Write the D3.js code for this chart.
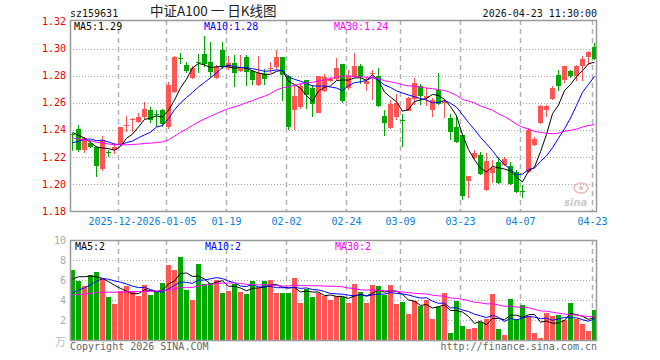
<!DOCTYPE html>
<html><head><meta charset="utf-8">
<script src="https://cdn.jsdelivr.net/npm/d3@7"></script>
<style>
body{margin:0;background:#fff}
svg{display:block}
text{font-family:"DejaVu Sans Mono","Liberation Mono",monospace;font-size:10px}
</style>
</head><body>
<svg id="c" width="660" height="360"></svg>
<script>
// ---------- data ----------
const dates = [
 "2025-12-10","2025-12-11","2025-12-12","2025-12-15","2025-12-16","2025-12-17","2025-12-18","2025-12-19",
 "2025-12-22","2025-12-23","2025-12-24","2025-12-25","2025-12-26","2025-12-29","2025-12-30","2025-12-31",
 "2026-01-05","2026-01-06","2026-01-07","2026-01-08","2026-01-09","2026-01-12","2026-01-13","2026-01-14",
 "2026-01-15","2026-01-16","2026-01-19","2026-01-20","2026-01-21","2026-01-22","2026-01-23","2026-01-26",
 "2026-01-27","2026-01-28","2026-01-29","2026-01-30","2026-02-02","2026-02-03","2026-02-04","2026-02-05",
 "2026-02-06","2026-02-09","2026-02-10","2026-02-11","2026-02-12","2026-02-13","2026-02-24","2026-02-25",
 "2026-02-26","2026-02-27","2026-03-02","2026-03-03","2026-03-04","2026-03-05","2026-03-06","2026-03-09",
 "2026-03-10","2026-03-11","2026-03-12","2026-03-13","2026-03-16","2026-03-17","2026-03-18","2026-03-19",
 "2026-03-20","2026-03-23","2026-03-24","2026-03-25","2026-03-26","2026-03-27","2026-03-30","2026-03-31",
 "2026-04-01","2026-04-02","2026-04-03","2026-04-07","2026-04-08","2026-04-09","2026-04-10","2026-04-13",
 "2026-04-14","2026-04-15","2026-04-16","2026-04-17","2026-04-20","2026-04-21","2026-04-22","2026-04-23"];

const open = [
 1.2368,1.2407,1.2252,1.2304,1.2274,1.2111,1.2233,1.2252,1.2289,1.2430,
 1.2475,1.2459,1.2494,1.2548,1.2515,1.2543,1.2419,1.2681,1.2930,1.2881,
 1.2783,1.2902,1.2959,1.2899,1.2783,1.2993,1.2857,1.2896,1.2832,1.2936,
 1.2832,1.2733,1.2813,1.2850,1.2865,1.2936,1.2800,1.2548,1.2570,1.2770,
 1.2709,1.2526,1.2684,1.2763,1.2778,1.2883,1.2709,1.2787,1.2870,1.2739,
 1.2817,1.2800,1.2499,1.2411,1.2496,1.2474,1.2541,1.2630,1.2724,1.2637,
 1.2543,1.2693,1.2595,1.2487,1.2420,1.2363,1.2022,1.2189,1.2215,1.1956,
 1.2081,1.2165,1.2137,1.2133,1.2091,1.1946,1.2091,1.2289,1.2452,1.2543,
 1.2630,1.2807,1.2770,1.2832,1.2795,1.2869,1.2936,1.3013];
const high = [
 1.2378,1.2437,1.2348,1.2319,1.2281,1.2356,1.2252,1.2304,1.2424,1.2499,
 1.2487,1.2526,1.2602,1.2570,1.2544,1.2553,1.2750,1.2943,1.2965,1.2899,
 1.2874,1.2963,1.3091,1.3047,1.2878,1.3052,1.2948,1.2956,1.2951,1.2956,
 1.2844,1.2943,1.2850,1.2899,1.2987,1.2941,1.2807,1.2721,1.2746,1.2770,
 1.2733,1.2800,1.2815,1.2793,1.2933,1.2883,1.2844,1.2968,1.2884,1.2788,
 1.2844,1.2857,1.2543,1.2622,1.2667,1.2519,1.2640,1.2783,1.2739,1.2709,
 1.2635,1.2820,1.2622,1.2519,1.2499,1.2363,1.2059,1.2252,1.2237,1.2227,
 1.2178,1.2198,1.2198,1.2163,1.2104,1.1993,1.2411,1.2344,1.2585,1.2585,
 1.2721,1.2844,1.2874,1.2844,1.2881,1.2943,1.2980,1.3042];
const low = [
 1.2244,1.2239,1.2230,1.2267,1.2054,1.2096,1.2200,1.2222,1.2281,1.2387,
 1.2387,1.2452,1.2481,1.2452,1.2422,1.2422,1.2405,1.2672,1.2885,1.2820,
 1.2776,1.2822,1.2867,1.2783,1.2776,1.2850,1.2844,1.2715,1.2826,1.2721,
 1.2733,1.2726,1.2733,1.2820,1.2850,1.2610,1.2400,1.2400,1.2556,1.2553,
 1.2494,1.2522,1.2676,1.2756,1.2770,1.2600,1.2696,1.2783,1.2739,1.2684,
 1.2622,1.2570,1.2356,1.2407,1.2474,1.2276,1.2536,1.2585,1.2585,1.2573,
 1.2493,1.2585,1.2487,1.2326,1.2306,1.1881,1.1893,1.2178,1.2067,1.1950,
 1.2007,1.2000,1.2130,1.1993,1.1931,1.1894,1.2079,1.2279,1.2444,1.2493,
 1.2622,1.2684,1.2746,1.2783,1.2758,1.2758,1.2881,1.2919];
const close = [
 1.2363,1.2252,1.2341,1.2274,1.2136,1.2326,1.2230,1.2276,1.2419,1.2435,
 1.2480,1.2494,1.2553,1.2474,1.2511,1.2444,1.2733,1.2935,1.2925,1.2832,
 1.2859,1.2898,1.2884,1.2825,1.2863,1.2863,1.2896,1.2819,1.2865,1.2825,
 1.2770,1.2820,1.2776,1.2857,1.2936,1.2807,1.2419,1.2652,1.2726,1.2659,
 1.2593,1.2800,1.2791,1.2778,1.2859,1.2612,1.2795,1.2870,1.2788,1.2763,
 1.2822,1.2578,1.2448,1.2593,1.2598,1.2470,1.2637,1.2746,1.2652,1.2652,
 1.2622,1.2593,1.2610,1.2380,1.2313,1.1911,1.2059,1.2227,1.2074,1.2170,
 1.2116,1.2007,1.2183,1.2000,1.1943,1.1943,1.2400,1.2333,1.2573,1.2578,
 1.2709,1.2721,1.2869,1.2795,1.2874,1.2924,1.2976,1.2926];
// volume, in 万
const volume = [
 7.0,5.9,5.4,6.5,6.8,6.2,4.3,3.6,4.9,5.4,
 4.9,4.4,5.5,4.5,4.8,5.7,7.5,7.0,8.3,5.0,
 4.0,7.6,5.6,5.7,6.0,4.7,4.9,5.6,4.8,4.6,
 5.9,5.2,5.9,6.0,4.7,4.7,4.7,6.2,3.7,5.1,
 4.3,4.7,4.4,4.0,4.4,4.3,3.7,5.6,4.8,3.7,
 5.5,5.4,4.5,5.5,3.6,3.8,2.6,3.9,3.4,4.0,
 2.1,3.3,4.7,0.7,3.9,1.4,1.1,1.2,1.8,2.1,
 4.6,1.1,0.5,4.1,2.1,3.5,2.4,0.7,0.2,2.7,
 2.4,2.5,2.0,3.7,2.1,1.6,0.9,3.0];
// sessions before the visible window (needed for the moving averages)
const prevCloses = [
 1.252,1.250,1.247,1.249,1.246,1.2465,1.244,1.242,1.245,1.240,
 1.243,1.239,1.241,1.240,1.226,1.230,1.212,1.207,1.210,1.206,
 1.215,1.220,1.224,1.226,1.229,1.236,1.244,1.244,1.230];
const prevVolumes = [
 4.1,4.8,3.9,4.6,5.0,4.2,3.8,4.5,4.9,4.3,
 4.0,4.7,4.4,3.7,4.6,5.1,4.2,4.3,4.5,4.4,
 3.0,3.2,3.4,3.3,3.6,4.75,5.4,6.15,7.2];

const tickDates  = ["2025-12-22","2026-01-05","2026-01-19","2026-02-02","2026-02-24","2026-03-09","2026-03-23","2026-04-07","2026-04-23"];
const tickLabels = ["2025-12-22","2026-01-05","01-19","02-02","02-24","03-09","03-23","04-07","04-23"];
const priceTicks = [1.18,1.20,1.22,1.24,1.26,1.28,1.30,1.32];
const volTicks = [2,4,6,8,10];
const maPeriods = [5,10,30];
const maColors = ["#000000","#0000ff","#ff00ff"];

// ---------- helpers ----------
function movingAvg(prev, vals, n){
  const all = prev.concat(vals), off = prev.length;
  return vals.map((v,i)=> d3.mean(all.slice(off+i-n+1, off+i+1)));
}

const svg = d3.select("#c");
const L = 70, R = 597, T = 20, B = 211, VT = 240, VB = 340;

const x = d3.scaleBand().domain(dates).range([L, L + 6*dates.length]).padding(0);
const bw = 5;
const cx = d => x(d) + bw/2;
const y = d3.scaleLinear().domain([1.18,1.32]).range([211, 21.5]);
const yv = d3.scaleLinear().domain([0,10]).range([VB, VT]);

const RED = "#ff5555", GREEN = "#00a800";
const colorOf = i => close[i] >= open[i] ? RED : GREEN;

// ---------- grids ----------
const g0 = svg.append("g");
g0.selectAll(".hg").data(priceTicks.filter(v=>v>1.185 && v<1.315)).join("line")
  .attr("x1",L).attr("x2",R).attr("y1",d=>Math.round(y(d))+0.5).attr("y2",d=>Math.round(y(d))+0.5)
  .attr("stroke","#a8a8a8").attr("stroke-dasharray","1,2");
g0.selectAll(".vg").data([2,4,6,8]).join("line")
  .attr("x1",L).attr("x2",R).attr("y1",d=>Math.round(yv(d))+0.5).attr("y2",d=>Math.round(yv(d))+0.5)
  .attr("stroke","#a8a8a8").attr("stroke-dasharray","1,2");
[[T,B],[VT,VB]].forEach(([a,b])=>{
  g0.append("g").selectAll("line").data(tickDates).join("line")
    .attr("x1",d=>x(d)+0.5).attr("x2",d=>x(d)+0.5).attr("y1",a).attr("y2",b)
    .attr("stroke","#b0b0b0").attr("stroke-width",1.5).attr("stroke-dasharray","5,4");
});

// watermark
const wm = svg.append("g").attr("opacity",0.7);
wm.append("ellipse").attr("cx",581).attr("cy",188).attr("rx",7).attr("ry",5).attr("fill","none").attr("stroke","#e8a0a0").attr("stroke-width",1.6);
wm.append("circle").attr("cx",581).attr("cy",188).attr("r",2).attr("fill","#e8a0a0");
wm.append("text").attr("x",564).attr("y",206).attr("font-size","16px").attr("font-style","italic").attr("font-weight","bold")
  .style("font-family","DejaVu Sans, sans-serif").attr("fill","#b5b5b5").text("sina");

// ---------- candles ----------
const cg = svg.append("g").attr("shape-rendering","crispEdges");
cg.selectAll(".wick").data(dates).join("rect")
  .attr("x",d=>x(d)+2).attr("width",1)
  .attr("y",(d,i)=>y(high[i])).attr("height",(d,i)=>Math.max(1,y(low[i])-y(high[i])))
  .attr("fill",(d,i)=>colorOf(i));
cg.selectAll(".body").data(dates).join("rect")
  .attr("x",d=>x(d)).attr("width",bw)
  .attr("y",(d,i)=>y(Math.max(open[i],close[i])))
  .attr("height",(d,i)=>Math.max(1,Math.abs(y(open[i])-y(close[i]))))
  .attr("fill",(d,i)=>colorOf(i));

// ---------- volume bars ----------
svg.append("g").attr("shape-rendering","crispEdges").selectAll("rect").data(dates).join("rect")
  .attr("x",d=>x(d)).attr("width",bw)
  .attr("y",(d,i)=>yv(volume[i])).attr("height",(d,i)=>VB-yv(volume[i]))
  .attr("fill",(d,i)=>colorOf(i));

// ---------- moving averages ----------
const priceMA = maPeriods.map(n=>movingAvg(prevCloses, close, n));
const volMA = maPeriods.map(n=>movingAvg(prevVolumes, volume, n));
const lineP = d3.line().x((d,i)=>cx(dates[i])).y(d=>y(d));
const lineV = d3.line().x((d,i)=>cx(dates[i])).y(d=>yv(d));
priceMA.forEach((arr,k)=>{
  svg.append("path").attr("d",lineP(arr)).attr("fill","none").attr("stroke",maColors[k]).attr("stroke-width",1);
});
volMA.forEach((arr,k)=>{
  svg.append("path").attr("d",lineV(arr)).attr("fill","none").attr("stroke",maColors[k]).attr("stroke-width",1);
});

// ---------- frames ----------
svg.append("rect").attr("x",L+0.5).attr("y",T+0.5).attr("width",R-L-1).attr("height",B-T)
  .attr("fill","none").attr("stroke","#999").attr("stroke-width",1.5);
svg.append("rect").attr("x",L+0.5).attr("y",VT+0.5).attr("width",R-L-1).attr("height",VB-VT)
  .attr("fill","none").attr("stroke","#999").attr("stroke-width",1.5);

// ---------- axes ----------
const ya = svg.append("g").attr("transform",`translate(${L},0)`)
  .call(d3.axisLeft(y).tickValues(priceTicks).tickFormat(d3.format(".2f")).tickSize(0).tickPadding(4));
ya.select(".domain").remove();
ya.selectAll("text").attr("fill","#ee0000").style("font-size","10px").style("font-family","DejaVu Sans Mono, monospace");

const va = svg.append("g").attr("transform",`translate(${L},0)`)
  .call(d3.axisLeft(yv).tickValues(volTicks).tickSize(0).tickPadding(4));
va.select(".domain").remove();
va.selectAll("text").attr("fill","#aaaaaa").style("font-size","10px").style("font-family","DejaVu Sans Mono, monospace");

const xa = svg.append("g").attr("transform",`translate(${-bw/2},${B})`)
  .call(d3.axisBottom(x).tickValues(tickDates).tickFormat(d=>tickLabels[tickDates.indexOf(d)]).tickSize(0).tickPadding(7));
xa.select(".domain").remove();
xa.selectAll("text").attr("fill","#0a80d8").style("font-size","10px").style("font-family","DejaVu Sans Mono, monospace");
xa.selectAll(".tick").each(function(){
  const t = d3.select(this).select("text");
  const bb = t.node().getBBox();
  d3.select(this).insert("rect","text").attr("x",bb.x-1).attr("y",bb.y).attr("width",bb.width+2).attr("height",bb.height).attr("fill","#fff");
});

// ---------- texts ----------
const last = dates.length - 1;
svg.append("text").attr("x",70).attr("y",17).attr("fill","#111").text("sz159631");
svg.append("text").attr("x",150).attr("y",16).attr("fill","#222")
  .style("font-family","'Noto Sans CJK SC', sans-serif").style("font-size","13.5px").text("中证A100 一 日K线图");
svg.append("text").attr("x",597).attr("y",17).attr("text-anchor","end").attr("fill","#111").text("2026-04-23 11:30:00");

const legX = [74,204,334];
maPeriods.forEach((n,k)=>{
  svg.append("text").attr("x",legX[k]).attr("y",30).attr("fill",maColors[k]).text(`MA${n}:${priceMA[k][last].toFixed(2)}`);
  svg.append("text").attr("x",legX[k]+1).attr("y",250).attr("fill",maColors[k]).text(`MA${n}:${Math.round(volMA[k][last])}`);
});

svg.append("text").attr("x",66).attr("y",346).attr("text-anchor","end").attr("fill","#bbbbbb")
  .style("font-family","'Noto Sans CJK SC', sans-serif").style("font-size","11px").text("万");
svg.append("text").attr("x",70).attr("y",350).attr("fill","#666").text("Copyright 2026 SINA.COM");
svg.append("text").attr("x",597).attr("y",350).attr("text-anchor","end").attr("fill","#666").text("http://finance.sina.com.cn");
</script>
</body></html>
